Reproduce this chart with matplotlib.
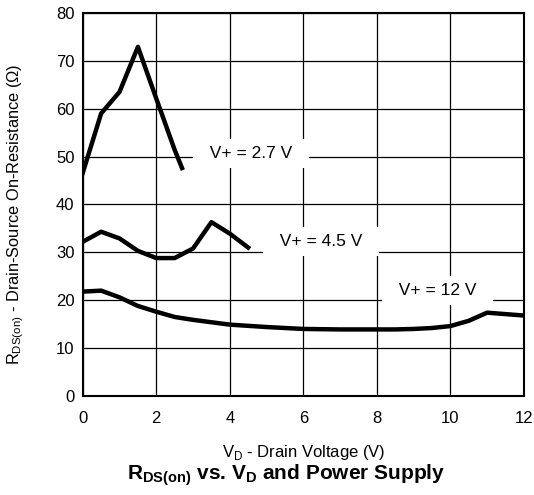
import matplotlib.pyplot as plt

plt.rcParams['font.family'] = ['Liberation Sans', 'DejaVu Sans']
plt.rcParams['mathtext.fontset'] = 'custom'
plt.rcParams['mathtext.rm'] = 'Liberation Sans'
plt.rcParams['mathtext.bf'] = 'Liberation Sans:bold'

# datos
vd_27 = [0, 0.5, 1.0, 1.5, 2.0, 2.5, 2.7]
r_27 = [46.6, 59.0, 63.5, 72.9, 62.1, 51.4, 47.6]

vd_45 = [0, 0.5, 1.0, 1.5, 2.0, 2.5, 3.0, 3.5, 4.0, 4.5]
r_45 = [32.2, 34.3, 32.9, 30.3, 28.8, 28.8, 30.8, 36.3, 33.9, 31.0]

vd_12 = [0, 0.5, 1.0, 1.5, 2.0, 2.5, 3.0, 4.0, 5.0, 6.0, 7.0, 8.0, 8.5, 9.0, 9.5, 10.0, 10.5, 11.0, 12.0]
r_12 = [21.8, 22.0, 20.6, 18.8, 17.6, 16.5, 15.9, 14.9, 14.4, 14.0, 13.9, 13.9, 13.9, 14.0, 14.2, 14.6, 15.7, 17.4, 16.8]

etiquetas = ['V+ = 2.7 V', 'V+ = 4.5 V', 'V+ = 12 V']
pos_etiquetas = [(4.57, 50.6), (6.48, 32.3), (9.66, 22.0)]

fig = plt.figure(figsize=(5.34, 4.95), dpi=100)
ax = fig.add_axes([0.155, 0.2, 0.826, 0.774])

ax.plot(vd_27, r_27, color='black', lw=3.2, zorder=3)
ax.plot(vd_45, r_45, color='black', lw=3.2, zorder=3)
ax.plot(vd_12, r_12, color='black', lw=3.2, zorder=3)

# etiquetas con fondo blanco que cortan la grilla
for txt, (x, y) in zip(etiquetas, pos_etiquetas):
    ax.text(x, y, '  ' + txt + '  ', ha='center', va='center', fontsize=12.5, zorder=2,
            bbox=dict(facecolor='white', edgecolor='none', pad=5))

ax.set_xlim(0, 12)
ax.set_ylim(0, 80)
ax.set_xticks(range(0, 13, 2))
ax.set_yticks(range(0, 81, 10))
ax.grid(True, color='black', lw=0.9, zorder=1)
ax.set_axisbelow(True)
ax.tick_params(length=0, labelsize=12)
ax.tick_params(axis='x', pad=11)
ax.tick_params(axis='y', pad=6)
for s in ax.spines.values():
    s.set_linewidth(1.5)

ax.set_xlabel(r'V$_\mathrm{D}$ - Drain Voltage (V)', fontsize=12)
ax.xaxis.set_label_coords(0.5, -0.122)
ax.set_ylabel(r'R$_\mathrm{DS(on)}$ - Drain-Source On-Resistance ($\Omega$)', fontsize=11.75)
ax.yaxis.set_label_coords(-0.128, 0.475)
fig.text(0.536, 0.04, r'$\mathbf{R_{DS(on)}}$ vs. $\mathbf{V_D}$ and Power Supply',
         ha='center', va='center', fontsize=15, fontweight='bold')

plt.savefig('out.png', dpi=100)
